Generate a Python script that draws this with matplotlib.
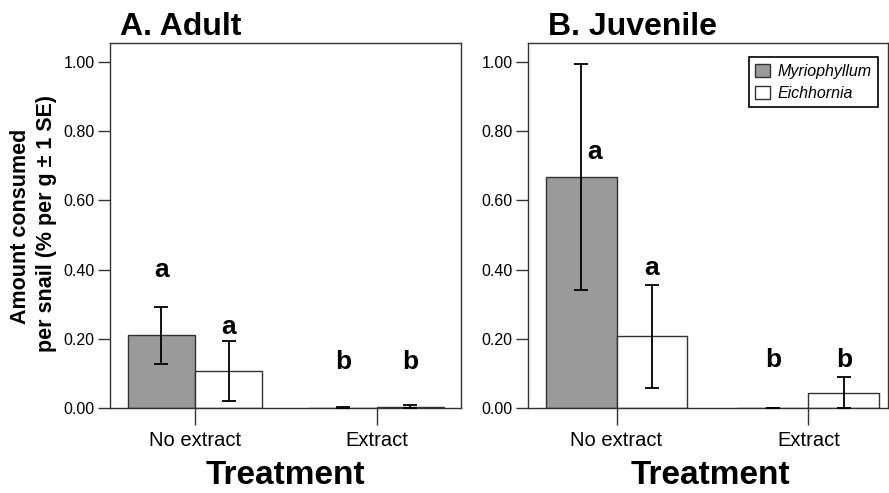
import matplotlib.pyplot as plt
import numpy as np

plt.rcParams['font.family'] = ['Liberation Sans', 'DejaVu Sans']

# data
treatments = ['No extract', 'Extract']
species = ['Myriophyllum', 'Eichhornia']

adult_myrio = [0.211, 0.002]
adult_myrio_se = [0.082, 0.003]
adult_eich = [0.107, 0.005]
adult_eich_se = [0.086, 0.005]
adult_letters = [['a', 'b'], ['a', 'b']]
adult_letter_y = [[0.40, 0.135], [0.235, 0.135]]

juv_myrio = [0.667, 0.0]
juv_myrio_se = [0.327, 0.0]
juv_eich = [0.208, 0.045]
juv_eich_se = [0.148, 0.044]
juv_letters = [['a', 'b'], ['a', 'b']]
juv_letter_y = [[0.74, 0.139], [0.404, 0.139]]

fig = plt.figure(figsize=(8.89, 4.93), dpi=100)
axA = fig.add_axes([0.1237, 0.1718, 0.3949, 0.741])
axB = fig.add_axes([0.5936, 0.1718, 0.4054, 0.741])

x = np.arange(len(treatments))
w = 0.37
edge = '#333333'

def draw(ax, myr, myr_se, eic, eic_se, letters, letter_y, xlim, shift=(0, 0)):
    ax.bar(x - w / 2, myr, w, color='#9a9a9a', edgecolor=edge, linewidth=1, zorder=2, label=species[0])
    ax.bar(x + w / 2, eic, w, color='white', edgecolor=edge, linewidth=1, zorder=2, label=species[1])
    ax.errorbar(x - w / 2, myr, yerr=myr_se, fmt='none', ecolor='black', elinewidth=1.3, capsize=5, capthick=1.3, zorder=3)
    ax.errorbar(x + w / 2, eic, yerr=eic_se, fmt='none', ecolor='black', elinewidth=1.3, capsize=5, capthick=1.3, zorder=3)
    for i in range(len(x)):
        ax.text(x[i] - w / 2 + shift[i], letter_y[0][i], letters[0][i], ha='center', va='center',
                fontsize=19, fontweight='bold')
        ax.text(x[i] + w / 2, letter_y[1][i], letters[1][i], ha='center', va='center',
                fontsize=19, fontweight='bold')
    ax.set_ylim(0, 1.054)
    ax.set_xlim(*xlim)
    ax.set_yticks([0, 0.2, 0.4, 0.6, 0.8, 1.0])
    ax.set_yticklabels(['%.2f' % v for v in [0, 0.2, 0.4, 0.6, 0.8, 1.0]])
    ax.set_xticks(x)
    ax.set_xticklabels(treatments)
    ax.tick_params(axis='y', length=9, width=1, labelsize=11.5, pad=2, color=edge)
    ax.tick_params(axis='x', length=12, width=1, labelsize=14.5, pad=4, color=edge)
    for s in ax.spines.values():
        s.set_color(edge)
        s.set_linewidth(1)

draw(axA, adult_myrio, adult_myrio_se, adult_eich, adult_eich_se, adult_letters, adult_letter_y, (-0.468, 1.464))
draw(axB, juv_myrio, juv_myrio_se, juv_eich, juv_eich_se, juv_letters, juv_letter_y, (-0.463, 1.416), shift=(0.07, 0))

leg = axB.legend(loc='upper right', bbox_to_anchor=(0.995, 0.983), prop={'style': 'italic', 'size': 11.5},
                 fancybox=False, edgecolor='black', framealpha=1, handlelength=0.9, handleheight=0.9,
                 handletextpad=0.5, borderpad=0.4, labelspacing=0.45)
leg.get_frame().set_linewidth(1.2)

fig.text(0.135, 0.929, 'A. Adult', fontsize=23, fontweight='bold', ha='left', va='baseline')
fig.text(0.616, 0.929, 'B. Juvenile', fontsize=23, fontweight='bold', ha='left', va='baseline')

fig.text(21 / 889, 1 - 226 / 493, 'Amount consumed', rotation=90, ha='center', va='center',
         fontsize=15.5, fontweight='bold')
fig.text(47 / 889, 1 - 224 / 493, 'per snail (% per g \u00b1 1 SE)', rotation=90, ha='center', va='center',
         fontsize=15.5, fontweight='bold')

fig.text(285 / 889, 1 - 476 / 493, 'Treatment', fontsize=24, fontweight='bold', ha='center', va='center')
fig.text(710 / 889, 1 - 476 / 493, 'Treatment', fontsize=24, fontweight='bold', ha='center', va='center')

fig.savefig('out.png', dpi=100)
